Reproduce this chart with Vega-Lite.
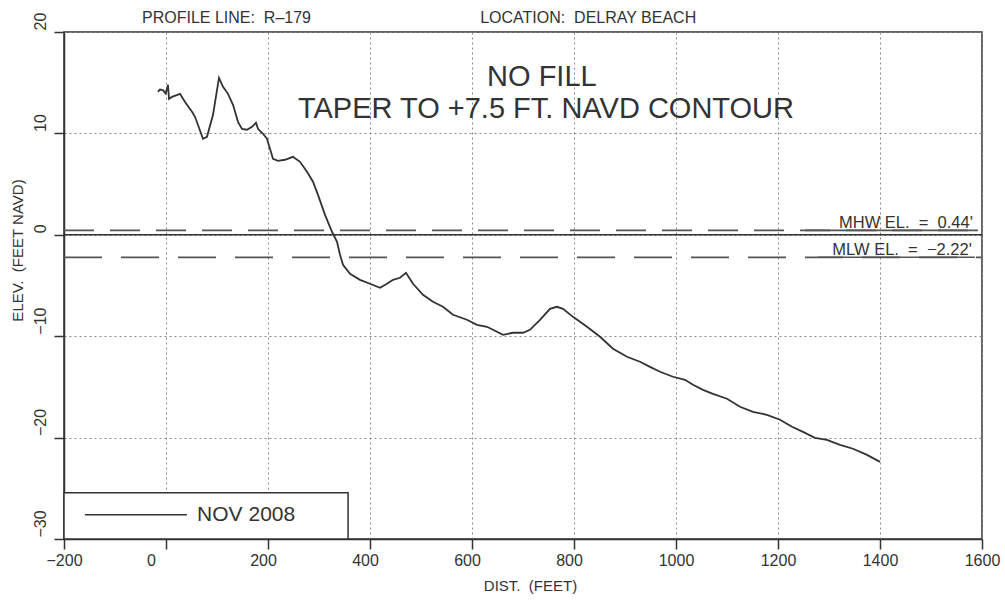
{
  "$schema": "https://vega.github.io/schema/vega-lite/v6.json",
  "width": 918,
  "height": 507,
  "autosize": {"type": "none"},
  "padding": {"left": 64, "top": 32, "right": 23, "bottom": 63},
  "background": "white",
  "config": {
    "view": {"stroke": "#333", "strokeWidth": 1.5},
    "font": "Liberation Sans"
  },
  "datasets": {
    "profile": [
      {"x": -15.7, "y": 14.1}, {"x": -11.8, "y": 14.33}, {"x": -5.9, "y": 14.27}, {"x": -0.6, "y": 13.93},
      {"x": 3.9, "y": 14.79}, {"x": 5.9, "y": 13.41}, {"x": 11.8, "y": 13.6}, {"x": 27.5, "y": 13.9},
      {"x": 37.3, "y": 13.1}, {"x": 51.0, "y": 12.13}, {"x": 56.9, "y": 11.64}, {"x": 72.5, "y": 9.47},
      {"x": 80.4, "y": 9.66}, {"x": 92.2, "y": 11.83}, {"x": 103.9, "y": 15.48}, {"x": 111.8, "y": 14.6},
      {"x": 121.6, "y": 13.9}, {"x": 131.4, "y": 12.82}, {"x": 141.2, "y": 11.14}, {"x": 149.0, "y": 10.45},
      {"x": 158.8, "y": 10.36}, {"x": 168.6, "y": 10.65}, {"x": 176.5, "y": 11.05}, {"x": 180.4, "y": 10.45},
      {"x": 190.2, "y": 9.96}, {"x": 198.0, "y": 9.47}, {"x": 203.9, "y": 8.48}, {"x": 209.8, "y": 7.5},
      {"x": 219.6, "y": 7.3}, {"x": 233.3, "y": 7.4}, {"x": 249.0, "y": 7.69}, {"x": 262.7, "y": 7.2},
      {"x": 276.5, "y": 6.21}, {"x": 288.2, "y": 5.23}, {"x": 298.0, "y": 3.94}, {"x": 311.8, "y": 1.97},
      {"x": 325.5, "y": 0.3}, {"x": 335.3, "y": -0.69}, {"x": 341.2, "y": -1.97}, {"x": 347.1, "y": -2.96},
      {"x": 360.8, "y": -3.85}, {"x": 380.4, "y": -4.44}, {"x": 400.0, "y": -4.83}, {"x": 419.6, "y": -5.23},
      {"x": 433.3, "y": -4.83}, {"x": 445.1, "y": -4.44}, {"x": 458.8, "y": -4.24}, {"x": 470.6, "y": -3.75},
      {"x": 484.3, "y": -4.83}, {"x": 503.9, "y": -5.92}, {"x": 523.5, "y": -6.61}, {"x": 543.1, "y": -7.1},
      {"x": 562.7, "y": -7.89}, {"x": 590.2, "y": -8.38}, {"x": 609.8, "y": -8.88}, {"x": 629.4, "y": -9.07},
      {"x": 641.2, "y": -9.37}, {"x": 660.8, "y": -9.86}, {"x": 680.4, "y": -9.66}, {"x": 700.0, "y": -9.66},
      {"x": 713.7, "y": -9.37}, {"x": 733.3, "y": -8.38}, {"x": 752.9, "y": -7.3}, {"x": 766.7, "y": -7.1},
      {"x": 778.4, "y": -7.3}, {"x": 798.0, "y": -8.09}, {"x": 825.5, "y": -9.07}, {"x": 851.0, "y": -10.06},
      {"x": 876.5, "y": -11.24}, {"x": 903.9, "y": -12.03}, {"x": 929.4, "y": -12.52}, {"x": 949.0, "y": -13.02},
      {"x": 968.6, "y": -13.51}, {"x": 994.1, "y": -14.0}, {"x": 1017.6, "y": -14.3}, {"x": 1033.3, "y": -14.79},
      {"x": 1052.9, "y": -15.29}, {"x": 1072.5, "y": -15.68}, {"x": 1100.0, "y": -16.17}, {"x": 1125.5, "y": -16.96},
      {"x": 1151.0, "y": -17.46}, {"x": 1178.4, "y": -17.75}, {"x": 1203.9, "y": -18.24}, {"x": 1227.5, "y": -18.93},
      {"x": 1249.0, "y": -19.43}, {"x": 1272.5, "y": -20.02}, {"x": 1296.1, "y": -20.22}, {"x": 1321.6, "y": -20.71},
      {"x": 1347.1, "y": -21.1}, {"x": 1374.5, "y": -21.7}, {"x": 1400.0, "y": -22.39}
    ],
    "mhw": [{"x": -200, "x2": 1600, "y": 0.44}],
    "mlw": [{"x": -200, "x2": 1600, "y": -2.22}],
    "underlines": [{"x": 1253, "x2": 1592, "y": 0.44}, {"x": 1278, "x2": 1586, "y": -2.22}],
    "zero": [{"x": -200, "x2": 1600, "y": 0}],
    "legendbox": [{"x": -200, "x2": 357, "y": -30, "y2": -25.44}],
    "legendline": [{"x": -159, "x2": 41, "y": -27.6}],
    "legendtext": [{"x": 61, "y": -27.6, "label": "NOV 2008"}],
    "header": [
      {"x": -47, "y": 21.4, "label": "PROFILE LINE:\u00a0 R–179"},
      {"x": 616, "y": 21.4, "label": "LOCATION:\u00a0 DELRAY BEACH"}
    ],
    "notes": [
      {"x": 737, "y": 15.6, "label": "NO FILL"},
      {"x": 745, "y": 12.4, "label": "TAPER TO +7.5 FT. NAVD CONTOUR"}
    ],
    "levellabels": [
      {"x": 1582, "y": 0.44, "label": "MHW EL.\u00a0 =\u00a0 0.44'"},
      {"x": 1580, "y": -2.22, "label": "MLW EL.\u00a0 =\u00a0 −2.22'"}
    ]
  },
  "encoding": {
    "x": {
      "field": "x",
      "type": "quantitative",
      "scale": {"domain": [-200, 1600], "nice": false, "zero": false},
      "axis": {
        "values": [-200, 0, 200, 400, 600, 800, 1000, 1200, 1400, 1600],
        "format": "d",
        "title": "DIST.\u00a0 (FEET)",
        "titleFont": "Liberation Sans",
        "titleFontSize": 15,
        "titleFontWeight": "normal",
        "titleColor": "#333",
        "titleX": 466,
        "titleY": 46,
        "titleAlign": "center",
        "titleBaseline": "middle",
        "labelFont": "Liberation Sans",
        "labelFontSize": 16,
        "labelColor": "#333",
        "labelPadding": 3,
        "labelFlush": false,
        "labelOverlap": false,
        "labelOffset": {
          "condition": [
            {"test": "datum.value === 0", "value": -15},
            {"test": "datum.value >= 200 && datum.value <= 800", "value": -5}
          ],
          "value": 0
        },
        "tickSize": 10,
        "tickColor": "#333",
        "tickWidth": 1.5,
        "domainColor": "#333",
        "domainWidth": 1.5,
        "grid": true,
        "gridDash": [2, 3],
        "gridColor": "#888",
        "gridWidth": 1
      }
    },
    "y": {
      "field": "y",
      "type": "quantitative",
      "scale": {"domain": [-30, 20], "nice": false, "zero": false},
      "axis": {
        "values": [-30, -20, -10, 0, 10, 20],
        "format": "d",
        "title": "ELEV.\u00a0 (FEET NAVD)",
        "titleFont": "Liberation Sans",
        "titleFontSize": 15,
        "titleFontWeight": "normal",
        "titleColor": "#333",
        "titleAngle": 270,
        "titleX": -47,
        "titleY": 218,
        "titleAlign": "center",
        "titleBaseline": "middle",
        "labelFont": "Liberation Sans",
        "labelFontSize": 16,
        "labelColor": "#333",
        "labelAngle": 270,
        "labelAlign": "left",
        "labelBaseline": "bottom",
        "labelPadding": 6,
        "labelOffset": -2,
        "labelOverlap": false,
        "labelFlush": false,
        "tickSize": 10,
        "tickColor": "#333",
        "tickWidth": 1.5,
        "domainColor": "#333",
        "domainWidth": 1.5,
        "grid": true,
        "gridDash": [2, 3],
        "gridColor": "#888",
        "gridWidth": 1
      }
    }
  },
  "layer": [
    {
      "data": {"name": "mhw"},
      "mark": {"type": "rule", "color": "#555", "strokeWidth": 1.8, "strokeDash": [30, 16]},
      "encoding": {"x2": {"field": "x2"}}
    },
    {
      "data": {"name": "mlw"},
      "mark": {"type": "rule", "color": "#555", "strokeWidth": 1.8, "strokeDash": [38, 19]},
      "encoding": {"x2": {"field": "x2"}}
    },
    {
      "data": {"name": "underlines"},
      "mark": {"type": "rule", "color": "#555", "strokeWidth": 1.6},
      "encoding": {"x2": {"field": "x2"}}
    },
    {
      "data": {"name": "zero"},
      "mark": {"type": "rule", "color": "#333", "strokeWidth": 1.5},
      "encoding": {"x2": {"field": "x2"}}
    },
    {
      "data": {"name": "profile"},
      "mark": {"type": "line", "color": "#333", "strokeWidth": 1.8}
    },
    {
      "data": {"name": "legendbox"},
      "mark": {"type": "rect", "fill": "white", "stroke": "#333", "strokeWidth": 1.5},
      "encoding": {"x2": {"field": "x2"}, "y2": {"field": "y2"}}
    },
    {
      "data": {"name": "legendline"},
      "mark": {"type": "rule", "color": "#333", "strokeWidth": 1.5},
      "encoding": {"x2": {"field": "x2"}}
    },
    {
      "data": {"name": "legendtext"},
      "mark": {"type": "text", "align": "left", "baseline": "middle", "fontSize": 21, "color": "#333", "font": "Liberation Sans"},
      "encoding": {"text": {"field": "label"}}
    },
    {
      "data": {"name": "header"},
      "mark": {"type": "text", "align": "left", "baseline": "middle", "fontSize": 16, "color": "#333", "font": "Liberation Sans"},
      "encoding": {"text": {"field": "label"}}
    },
    {
      "data": {"name": "notes"},
      "mark": {"type": "text", "align": "center", "baseline": "middle", "fontSize": 29, "color": "#333", "font": "Liberation Sans"},
      "encoding": {"text": {"field": "label"}}
    },
    {
      "data": {"name": "levellabels"},
      "mark": {"type": "text", "align": "right", "baseline": "alphabetic", "dy": -2, "fontSize": 16.5, "color": "#333", "font": "Liberation Sans"},
      "encoding": {"text": {"field": "label"}}
    }
  ]
}
